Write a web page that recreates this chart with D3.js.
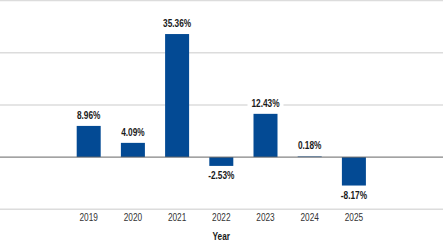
<!DOCTYPE html>
<html><head><meta charset="utf-8">
<script src="https://cdn.jsdelivr.net/npm/d3@7"></script>
<style>
html,body{margin:0;padding:0;background:#fff;}
svg{display:block;}
text{font-family:"Liberation Sans Narrow","Arial Narrow","Liberation Sans",Arial,sans-serif;}
</style>
</head><body>
<svg id="chart" width="443" height="247"></svg>
<script>
const years = ["2019","2020","2021","2022","2023","2024","2025"];
const returns = [8.96, 4.09, 35.36, -2.53, 12.43, 0.18, -8.17];
const yTicks = [-15, 0, 15, 30, 45];
const xTitle = "Year";

const W = 443, H = 247;
const SX = 0.83; // narrow-font emulation
const svg = d3.select("#chart");

const y = d3.scaleLinear().domain([-15, 45]).range([209.3, 0.5]);
const x = d3.scaleBand().domain(years).range([66.6, 376]).paddingInner(0.457).paddingOuter(0.2285);

// gridlines
svg.append("g").selectAll("line").data(yTicks.filter(d => d !== 0)).join("line")
  .attr("x1", 0).attr("x2", W)
  .attr("y1", d => y(d)).attr("y2", d => y(d))
  .attr("stroke", "#dcdcdc").attr("stroke-width", 1.5);

// bars
svg.append("g").selectAll("rect").data(years).join("rect")
  .attr("x", d => x(d))
  .attr("width", x.bandwidth())
  .attr("y", (d, i) => Math.min(y(returns[i]), y(0)))
  .attr("height", (d, i) => Math.abs(y(returns[i]) - y(0)))
  .attr("fill", "#034a94");

// zero line
svg.append("line").attr("x1", 0).attr("x2", W).attr("y1", y(0)).attr("y2", y(0))
  .attr("stroke", "#666").attr("stroke-width", 1);

// value labels
const lbl = svg.append("g").selectAll("g").data(years).join("g")
  .attr("transform", (d, i) => {
    const v = returns[i];
    const yy = v >= 0 ? y(v) - 10.5 : y(v) + 10;
    return `translate(${x(d) + x.bandwidth() / 2},${yy})`;
  });
lbl.append("rect")
  .attr("x", -18).attr("y", -6).attr("width", 36).attr("height", 12)
  .attr("fill", "#fff");
lbl.append("text")
  .attr("transform", `scale(${SX},1)`)
  .attr("text-anchor", "middle").attr("dy", "0.35em")
  .attr("font-size", 10).attr("font-weight", "bold").attr("fill", "#1a1a1a")
  .text((d, i) => returns[i].toFixed(2) + "%");

// x axis labels
const xAxis = d3.axisBottom(x).tickSize(0).tickPadding(0);
const gx = svg.append("g").attr("transform", `translate(0,${214})`).call(xAxis);
gx.select(".domain").remove();
gx.selectAll("text").attr("font-size", 10).attr("fill", "#333")
  .attr("transform", `scale(${SX},1)`)
  .style("font-family", '"Liberation Sans Narrow","Arial Narrow","Liberation Sans",Arial,sans-serif');

svg.append("g").attr("transform", `translate(${x("2022") + x.bandwidth() / 2},236)`)
  .append("text").attr("transform", `scale(${SX},1)`)
  .attr("dy", "0.35em").attr("text-anchor", "middle")
  .attr("font-size", 10).attr("font-weight", "bold").attr("fill", "#1a1a1a")
  .text(xTitle);
</script>
</body></html>
